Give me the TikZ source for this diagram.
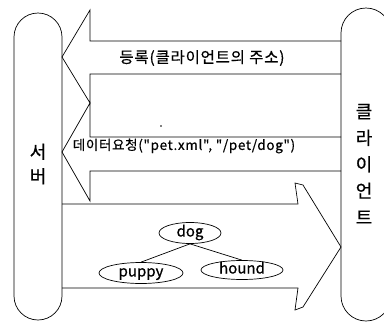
\documentclass[tikz,border=0pt]{standalone}
\usepackage{fontspec}
\setmainfont[FakeBold=0.6]{Noto Sans CJK KR}
\newfontfamily\krsp[LetterSpace=5,FakeBold=0.6]{Noto Sans CJK KR}
\usetikzlibrary{shapes.geometric}
\begin{document}
\begin{tikzpicture}[x=1pt,y=-1pt,line width=0.7pt,line join=miter,
  lbl/.style={inner sep=0pt,font=\krsp\fontsize{15.5}{16}\selectfont},
  bigtxt/.style={inner sep=0pt,align=center,font=\fontsize{18}{26.5}\selectfont},
  leaf/.style={draw,ellipse,inner sep=0pt,text height=9pt,text depth=2pt,font=\fontsize{15}{15}\selectfont}]
\useasboundingbox (0,0) rectangle (384,322);
\fill[white] (0,0) rectangle (384,322);
\begin{scope}
\clip (0,0) rectangle (384,322);
% server pillar
\draw (14,37) arc[start angle=180,end angle=360,radius=24] -- (62,296)
  arc[start angle=0,end angle=180,radius=24] -- cycle;
% client pillar
\draw (341,33) arc[start angle=180,end angle=360,radius=25] -- (391,296)
  arc[start angle=0,end angle=180,radius=25] -- cycle;
% arrow 1 (register)
\draw (341,41) -- (90,41) -- (90,10) -- (62,57) -- (90,103) -- (90,74) -- (341,74);
% arrow 2 (data request)
\draw (341,137) -- (90,137) -- (90,103) -- (62,152) -- (90,201) -- (90,171) -- (341,171);
% arrow 3 (response)
\draw (62,204) -- (298,204) -- (295,183) -- (303,185) -- (341,247) -- (303,307)
  -- (295,310) -- (298,288) -- (62,288);
\end{scope}
\node[bigtxt,font=\fontsize{18}{24.5}\selectfont] (server) at (38,164) {서\\버};
\node[bigtxt] (client) at (364,164) {클\\라\\이\\언\\트};
\node[lbl] (reg) at (202,58) {등록(클라이언트의 주소)};
\node[lbl,font=\krsp\fontsize{13.5}{14}\selectfont] (req) at (184,146) {데이터요청("pet.xml", "/pet/dog")};
\fill (161,126) circle[radius=0.9];
\node[leaf,minimum width=62,minimum height=21] (dog) at (190,233) {dog};
\node[leaf,minimum width=84,minimum height=21] (puppy) at (141,273) {puppy};
\node[leaf,minimum width=82,minimum height=19] (hound) at (242,270) {hound};
\draw (dog.south) -- (puppy.north);
\draw (dog.south) -- (hound.north);
\end{tikzpicture}
\end{document}
